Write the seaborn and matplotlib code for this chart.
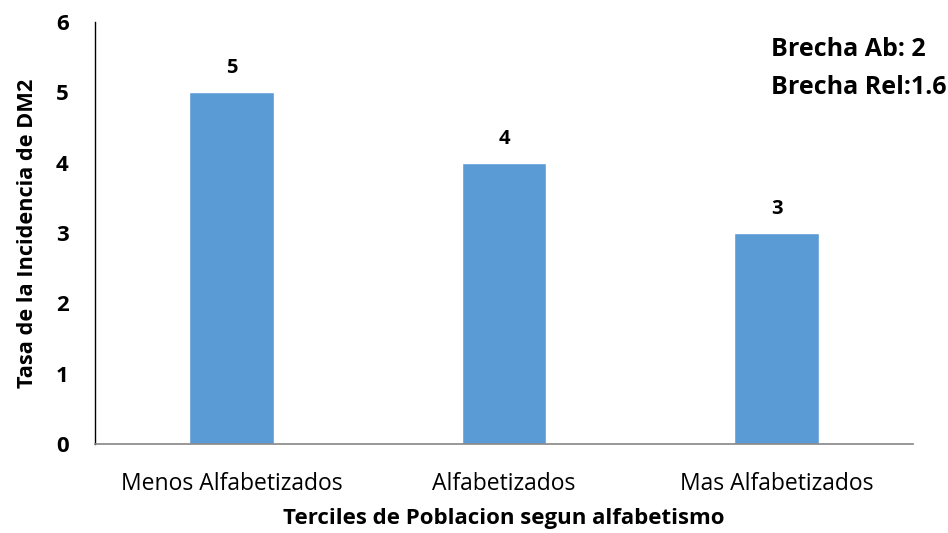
import matplotlib
matplotlib.use("Agg")
import matplotlib.pyplot as plt
import seaborn as sns
import pandas as pd

categorias = ["Menos Alfabetizados", "Alfabetizados", "Mas Alfabetizados"]
tasas = [5, 4, 3]
y_ticks = [0, 1, 2, 3, 4, 5, 6]
nota_brecha = ["Brecha Ab: 2", "Brecha Rel:1.6"]

sns.set_theme(style="white")
plt.rcParams["font.family"] = ["Open Sans", "DejaVu Sans"]
plt.rcParams.update({"text.color": "black", "axes.labelcolor": "black",
                     "xtick.color": "black", "ytick.color": "black"})

df = pd.DataFrame({"terciles": categorias, "tasa": tasas})

fig = plt.figure(figsize=(9.48, 5.33), dpi=100)
ax = fig.add_axes([95 / 948, 1 - 444 / 533, (913 - 95) / 948, (444 - 22) / 533])

sns.barplot(data=df, x="terciles", y="tasa", color="#5B9BD5", width=0.31,
            saturation=1, ax=ax)

ax.set_ylim(0, 6)
ax.set_xlim(-0.5, 2.5)
ax.set_yticks(y_ticks)
ax.set_yticklabels([str(t) for t in y_ticks], fontweight="bold", fontsize=16)
ax.tick_params(axis="y", length=0, pad=19)
ax.tick_params(axis="x", length=0, pad=20, labelsize=16.5)

for i, v in enumerate(tasas):
    ax.text(i, v + 0.2, str(v), ha="center", va="bottom",
            fontsize=14.5, fontweight="bold", color="black")

for s in ["top", "right"]:
    ax.spines[s].set_visible(False)
ax.spines["left"].set_color("black")
ax.spines["left"].set_linewidth(1.0)
ax.spines["bottom"].set_color("#868686")
ax.spines["bottom"].set_linewidth(1.2)

ax.set_xlabel("Terciles de Poblacion segun alfabetismo", fontsize=16,
              fontweight="bold", labelpad=9)
ax.set_ylabel("Tasa de la Incidencia de DM2", fontsize=15.7,
              fontweight="bold", labelpad=13)

fig.text(771 / 948, 1 - 50 / 533, nota_brecha[0], fontsize=18,
         fontweight="bold", va="center", ha="left")
fig.text(771 / 948, 1 - 88 / 533, nota_brecha[1], fontsize=18,
         fontweight="bold", va="center", ha="left")

fig.savefig("out.png", dpi=100, facecolor="white")
